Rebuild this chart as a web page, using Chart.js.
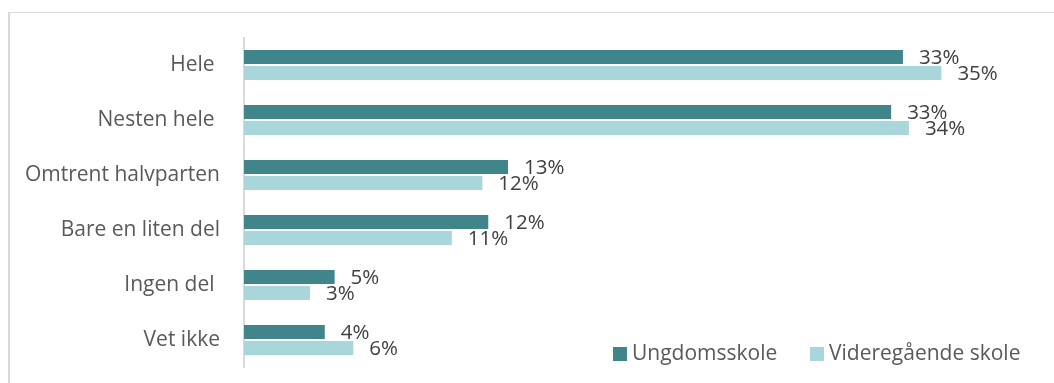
<!DOCTYPE html>
<html lang="no">
<head>
<meta charset="utf-8">
<title>Andel av timen</title>
<script src="https://cdn.jsdelivr.net/npm/chart.js@4.4.1/dist/chart.umd.min.js"></script>
<style>
    html, body { margin: 0; padding: 0; background: #ffffff; }
    #chart-box { width: 1054px; height: 383px; }
</style>
</head>
<body>
<div id="chart-box"><canvas id="survey-chart" width="1054" height="383"></canvas></div>
<script>
// Kategorier og verdier (lest av fra figuren)
const categories = ['Hele ', 'Nesten hele ', 'Omtrent halvparten', 'Bare en liten del', 'Ingen del ', 'Vet ikke'];
const seriesNames = ['Ungdomsskole', 'Videregående skole'];
const ungdomsskole = [33.45, 32.85, 13.4, 12.4, 4.6, 4.1];
const videregaende = [35.4, 33.75, 12.1, 10.55, 3.35, 5.55];
const seriesColors = ['#40858a', '#a9d6da'];

document.addEventListener('DOMContentLoaded', () => {
    const ctx = document.getElementById('survey-chart').getContext('2d');
    const fontFamily = '"Open Sans", "Liberation Sans", sans-serif';

    // Ramme, dataetiketter og forklaring tegnes etter diagrammet
    const decorations = {
        id: 'decorations',
        afterDraw: (chart) => {
            const c = chart.ctx;
            c.save();

            // ramme oppe og til venstre
            c.fillStyle = '#d9d9d9';
            c.fillRect(8, 12, 1054 - 8, 1);
            c.fillRect(8, 12, 2, 383 - 12);

            // verdier ved enden av søylene
            c.font = `20.5px ${fontFamily}`;
            c.fillStyle = '#404040';
            c.textAlign = 'left';
            c.textBaseline = 'middle';
            chart.data.datasets.forEach((ds, i) => {
                chart.getDatasetMeta(i).data.forEach((bar, j) => {
                    c.fillText(Math.round(ds.data[j]) + '%', bar.x + 16, bar.y + 1);
                });
            });

            // forklaring nede til høyre
            c.font = `21px ${fontFamily}`;
            const legendX = [613, 810];
            chart.data.datasets.forEach((ds, i) => {
                c.fillStyle = ds.backgroundColor;
                c.fillRect(legendX[i], 347, 14, 14);
                c.fillStyle = '#595959';
                c.fillText(ds.label, legendX[i] + 19, 354);
            });

            c.restore();
        }
    };

    new Chart(ctx, {
        type: 'bar',
        data: {
            labels: categories,
            datasets: [
                { label: seriesNames[0], data: ungdomsskole, backgroundColor: seriesColors[0] },
                { label: seriesNames[1], data: videregaende, backgroundColor: seriesColors[1] }
            ]
        },
        options: {
            indexAxis: 'y',
            responsive: false,
            animation: false,
            barPercentage: 0.875,
            categoryPercentage: 0.582,
            layout: { padding: { top: 37.5, bottom: 15.5, left: 10, right: 22 } },
            plugins: {
                legend: { display: false },
                tooltip: { enabled: false }
            },
            scales: {
                x: {
                    display: false,
                    min: 0,
                    max: 40
                },
                y: {
                    // tickLength gir avstanden mellom tekst og akse uten ekstra luft oppe/nede
                    grid: { display: false, drawTicks: true, tickLength: 24 },
                    border: { display: true, color: '#d9d9d9', width: 2 },
                    ticks: {
                        color: '#595959',
                        padding: 0,
                        font: { family: fontFamily, size: 21 }
                    },
                    afterFit: (scale) => { scale.width = 244 - 10; }
                }
            }
        },
        plugins: [decorations]
    });
});
</script>
</body>
</html>
